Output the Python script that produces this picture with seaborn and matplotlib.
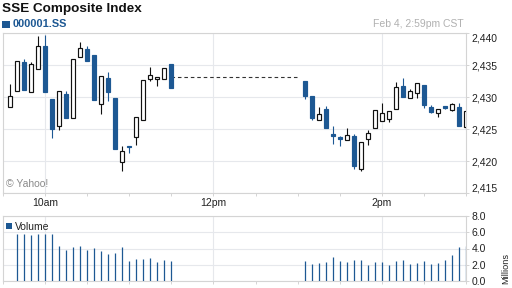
import matplotlib
matplotlib.use("Agg")
import matplotlib.pyplot as plt
import matplotlib.ticker as mticker
from matplotlib.patches import Rectangle
import numpy as np
import pandas as pd
import seaborn as sns

# ---------------- data (5-minute bars, labelled by bar end time) ----------------
morning_times = pd.date_range("2013-02-04 09:35", "2013-02-04 11:30", freq="5min")
afternoon_times = pd.date_range("2013-02-04 13:05", "2013-02-04 15:00", freq="5min")

opens = [2428.39, 2430.89, 2435.47, 2430.73, 2434.32, 2438.02, 2429.69, 2425.42,
         2430.47, 2426.67, 2436.20, 2437.50, 2436.56, 2428.85, 2432.92, 2429.79,
         2419.79, 2422.29, 2423.70, 2426.35, 2432.76, 2432.76, 2432.76, 2435.16,
         2432.50, 2430.10, 2426.41, 2428.13, 2424.17, 2423.75, 2423.23, 2423.91,
         2418.70, 2423.39, 2425.10, 2426.20, 2426.51, 2428.07, 2431.72, 2429.79,
         2430.63, 2431.88, 2428.39, 2427.45, 2428.59, 2427.97, 2428.44, 2425.31]
highs = [2432.03, 2435.57, 2435.89, 2435.47, 2439.53, 2439.69, 2429.69, 2430.89,
         2430.94, 2435.89, 2438.59, 2437.97, 2436.56, 2433.23, 2433.91, 2429.79,
         2422.29, 2422.29, 2426.82, 2432.60, 2434.69, 2433.07, 2434.48, 2435.16,
         2432.50, 2430.10, 2428.39, 2428.59, 2425.47, 2423.91, 2425.16, 2424.17,
         2422.92, 2424.84, 2427.92, 2429.06, 2427.81, 2432.34, 2432.97, 2431.20,
         2432.19, 2431.88, 2428.70, 2428.07, 2428.59, 2429.06, 2429.06, 2427.81]
lows = [2428.39, 2430.89, 2431.15, 2430.73, 2434.32, 2430.73, 2423.65, 2424.90,
        2426.77, 2426.67, 2436.20, 2435.68, 2429.58, 2427.29, 2429.43, 2421.82,
        2418.39, 2421.20, 2422.55, 2426.35, 2432.55, 2431.77, 2432.76, 2431.46,
        2429.74, 2426.46, 2426.41, 2425.21, 2422.71, 2422.40, 2423.23, 2418.80,
        2418.49, 2422.55, 2425.10, 2426.20, 2426.04, 2428.07, 2430.05, 2429.79,
        2429.90, 2428.33, 2427.45, 2426.82, 2428.07, 2427.86, 2425.52, 2425.05]
closes = [2430.10, 2435.57, 2431.15, 2435.16, 2437.97, 2430.73, 2425.05, 2430.89,
          2426.77, 2435.89, 2437.60, 2435.68, 2429.58, 2433.23, 2430.83, 2421.82,
          2421.61, 2422.14, 2426.82, 2432.60, 2433.39, 2433.07, 2434.48, 2431.46,
          2430.21, 2426.77, 2427.29, 2425.21, 2423.96, 2423.39, 2424.01, 2419.27,
          2422.92, 2424.32, 2427.92, 2427.45, 2427.81, 2431.51, 2430.05, 2430.89,
          2432.19, 2428.80, 2427.71, 2428.07, 2428.23, 2428.85, 2425.52, 2427.81]
volumes = [np.nan, 5.81, 5.81, 5.69, 5.81, 5.81, 5.81, 4.33, 3.84, 4.21, 4.33, 3.84,
           4.08, 3.71, 3.34, 3.46, 4.21, 2.47, 2.72, 2.72, 2.85, 2.35, 2.60, 2.47,
           2.47, 2.10, 2.23, 2.35, 2.97, 2.47, 2.35, 2.60, 2.60, 1.98, 2.35, 2.35,
           1.98, 2.47, 2.60, 2.10, 2.23, 2.47, 2.10, 2.23, 2.60, 3.22, 4.21, 4.33]
lunch_level = 2433.1
lunch_span = ["11:30", "13:00"]

price_ticks = [2415, 2420, 2425, 2430, 2435, 2440]
volume_ticks = [0, 2, 4, 6, 8]
hour_ticks = ["10:00", "12:00", "14:00"]
hour_labels = ["10am", "12pm", "2pm"]

# ---------------- helpers ----------------
def minutes(t):
    t = pd.Timestamp(t) if not isinstance(t, str) else pd.Timestamp("2013-02-04 " + t)
    return (t.hour - 9) * 60 + t.minute - 30

times = list(morning_times) + list(afternoon_times)
x = np.array([minutes(t) for t in times], dtype=float)
o = np.array(opens); h = np.array(highs); l = np.array(lows); c = np.array(closes)
up = c >= o

BLUE = "#1d5893"
GRID = "#e6e8ec"
SPINE = "#d4d4d4"
TXT = "#222222"

sns.set_theme(style="white")
plt.rcParams["font.family"] = ["Liberation Sans", "DejaVu Sans"]

W, H = 512, 288
fig = plt.figure(figsize=(W / 100, H / 100), dpi=100)
fig.patch.set_facecolor("white")

def fx(px):
    return px / W

def fy(py):
    return 1 - py / H

ax = fig.add_axes([fx(3), fy(193), fx(463), 160 / H])
axv = fig.add_axes([fx(3), fy(281), fx(463), 65 / H])

# ---------------- candles ----------------
ax.vlines(x[up], l[up], h[up], color="#111111", lw=0.8, zorder=2)
ax.vlines(x[~up], l[~up], h[~up], color=BLUE, lw=0.8, zorder=2)
body_lo = np.minimum(o, c)
body_h = np.abs(c - o)
ax.bar(x[up], body_h[up], bottom=body_lo[up], width=2.9, facecolor="white",
       edgecolor="#111111", linewidth=0.85, zorder=3)
ax.bar(x[~up], body_h[~up], bottom=body_lo[~up], width=2.9, facecolor=BLUE,
       edgecolor=BLUE, linewidth=0.85, zorder=3)

lunch_df = pd.DataFrame({"t": [minutes(s) for s in lunch_span],
                         "p": [lunch_level, lunch_level]})
sns.lineplot(data=lunch_df, x="t", y="p", ax=ax, color="#333333", lw=0.8,
             linestyle=(0, (3.2, 2.6)), zorder=2)

# ---------------- volume ----------------
vol = np.array(volumes, dtype=float)
ok = ~np.isnan(vol)
axv.vlines(x[ok], 0, vol[ok], color=BLUE, lw=0.9, zorder=3)

# ---------------- axes styling ----------------
hour_pos = [minutes(s) for s in hour_ticks]
minor_pos = [m for m in range(0, 331, 30) if m not in hour_pos]
for a in (ax, axv):
    a.set_xlim(0, 330)
    a.set_facecolor("white")
    for s in a.spines.values():
        s.set_color(SPINE)
        s.set_linewidth(0.8)
    a.set_xticks(hour_pos)
    a.set_xticks(minor_pos, minor=True)
    a.tick_params(axis="x", which="both", direction="out", length=2.2,
                  width=0.7, color=SPINE, bottom=True, top=False)
    a.yaxis.tick_right()
    a.tick_params(axis="y", which="major", direction="out", length=2.2,
                  width=0.7, color=SPINE, labelsize=7.5, labelcolor=TXT, pad=1.8)
    a.grid(axis="y", color=GRID, lw=0.8, zorder=0)
    a.grid(axis="x", which="major", color=GRID, lw=0.8, zorder=0)
    a.set_axisbelow(True)
    a.set_xlabel("")
    a.set_ylabel("")

ax.set_ylim(price_ticks[0], price_ticks[-1])
ax.set_yticks(price_ticks)
ax.yaxis.set_major_formatter(mticker.FuncFormatter(lambda v, p: f"{v:,.0f}"))
ax.set_xticklabels(hour_labels)
ax.tick_params(axis="x", labelsize=7.5, labelcolor=TXT, pad=1.6)
ylabels = ax.get_yticklabels()
ylabels[0].set_verticalalignment("bottom")
ylabels[-1].set_verticalalignment("top")

axv.set_ylim(volume_ticks[0], volume_ticks[-1])
axv.set_yticks(volume_ticks)
axv.yaxis.set_major_formatter(mticker.FuncFormatter(lambda v, p: f"{v:.1f}"))
axv.set_xticklabels([])

# ---------------- texts ----------------
fig.text(fx(2), fy(11.6), "SSE Composite Index", fontsize=9.7, fontweight="bold",
         color="#111111", va="baseline", ha="left")
fig.add_artist(Rectangle((fx(2.3), fy(28.3)), 7.5 / W, 7.3 / H,
                         transform=fig.transFigure, facecolor=BLUE, edgecolor="none"))
fig.text(fx(12.5), fy(27.3), "000001.SS", fontsize=7.9, fontweight="bold",
         color=BLUE, va="baseline", ha="left")
fig.text(fx(463.5), fy(27.3), "Feb 4, 2:59pm CST", fontsize=7.5,
         color="#b0b0b0", va="baseline", ha="right")
fig.text(fx(6), fy(187.3), "\u00a9 Yahoo!", fontsize=7.5, color="#8a8a8a",
         va="baseline", ha="left")
fig.add_artist(Rectangle((fx(6), fy(229.3)), 6.2 / W, 6.2 / H,
                         transform=fig.transFigure, facecolor=BLUE, edgecolor="none"))
fig.text(fx(14.5), fy(229.8), "Volume", fontsize=7.5, color=TXT,
         va="baseline", ha="left")
fig.text(fx(506), fy(268), "Millions", fontsize=6.6, color=TXT, rotation=90,
         va="center", ha="center")

fig.savefig("out.png", dpi=100, facecolor="white")
